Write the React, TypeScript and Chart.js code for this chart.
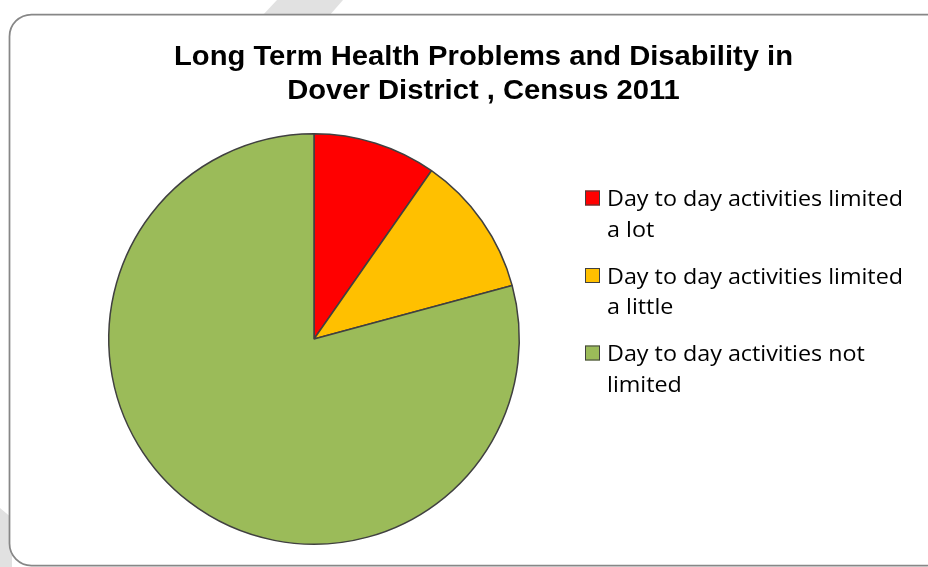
import React, { useEffect, useRef } from "react";
import { Chart, registerables } from "chart.js";

Chart.register(...registerables);

// ---- data ----
const categories = [
  "Day to day activities limited a lot",
  "Day to day activities limited a little",
  "Day to day activities not limited",
];
const values = [9.7, 11.1, 79.2];
const colors = ["#FF0000", "#FFC000", "#9BBB59"];
const titleLines = [
  "Long Term Health Problems and Disability in",
  "Dover District , Census 2011",
];

const W = 928;
const H = 567;

function roundRectPath(ctx: CanvasRenderingContext2D, x: number, y: number, w: number, h: number, r: number) {
  ctx.beginPath();
  ctx.moveTo(x + r, y);
  ctx.lineTo(x + w - r, y);
  ctx.arcTo(x + w, y, x + w, y + r, r);
  ctx.lineTo(x + w, y + h - r);
  ctx.arcTo(x + w, y + h, x + w - r, y + h, r);
  ctx.lineTo(x + r, y + h);
  ctx.arcTo(x, y + h, x, y + h - r, r);
  ctx.lineTo(x, y + r);
  ctx.arcTo(x, y, x + r, y, r);
  ctx.closePath();
}

function drawScaled(ctx: CanvasRenderingContext2D, text: string, x: number, y: number, sx: number, align: "left" | "center") {
  ctx.save();
  ctx.translate(x, y);
  ctx.scale(sx, 1);
  ctx.textAlign = align;
  ctx.textBaseline = "alphabetic";
  ctx.fillText(text, 0, 0);
  ctx.restore();
}

function wrapText(ctx: CanvasRenderingContext2D, text: string, maxW: number, sx: number): string[] {
  const words = text.split(" ");
  const lines: string[] = [];
  let cur = "";
  for (const w of words) {
    const test = cur ? cur + " " + w : w;
    if (cur && ctx.measureText(test).width * sx > maxW) {
      lines.push(cur);
      cur = w;
    } else {
      cur = test;
    }
  }
  if (cur) lines.push(cur);
  return lines;
}

const decorPlugin = {
  id: "decor",
  beforeDraw(chart: any) {
    const ctx: CanvasRenderingContext2D = chart.ctx;
    ctx.save();
    ctx.fillStyle = "#ffffff";
    ctx.fillRect(0, 0, W, H);
    // faint watermark pieces outside the frame
    ctx.fillStyle = "#e1e1e1";
    ctx.beginPath();
    ctx.moveTo(277, 0);
    ctx.lineTo(343, 0);
    ctx.lineTo(329, 16);
    ctx.lineTo(262, 16);
    ctx.closePath();
    ctx.fill();
    ctx.beginPath();
    ctx.moveTo(0, 508);
    ctx.lineTo(12, 518);
    ctx.lineTo(12, 567);
    ctx.lineTo(0, 567);
    ctx.closePath();
    ctx.fill();
    // frame
    roundRectPath(ctx, 9.5, 14.5, 940, 551, 22);
    ctx.fillStyle = "#ffffff";
    ctx.fill();
    ctx.lineWidth = 1.75;
    ctx.strokeStyle = "#878787";
    ctx.stroke();
    ctx.restore();
  },
  afterDraw(chart: any) {
    const ctx: CanvasRenderingContext2D = chart.ctx;
    ctx.save();
    // title
    ctx.fillStyle = "#000000";
    ctx.font = "bold 28px 'Liberation Sans', Arial, sans-serif";
    const tsx = 619 / ctx.measureText(titleLines[0]).width;
    const titleBaselines = [65, 98.5];
    titleLines.forEach((t, i) => drawScaled(ctx, t, 483.5, titleBaselines[i], tsx, "center"));

    // legend
    ctx.font = "22px 'Open Sans', 'Noto Sans', sans-serif";
    const lsx = 296 / ctx.measureText("Day to day activities limited").width;
    const labels: string[] = chart.data.labels;
    const bg: string[] = chart.data.datasets[0].backgroundColor;
    let base = 206;
    labels.forEach((lab, i) => {
      const lines = wrapText(ctx, lab, 302, lsx);
      ctx.fillStyle = bg[i];
      ctx.fillRect(585, base - 15.5, 15, 15);
      ctx.lineWidth = 1;
      ctx.strokeStyle = "#404040";
      ctx.strokeRect(585.5, base - 15, 14, 14);
      ctx.fillStyle = "#000000";
      lines.forEach((ln, j) => drawScaled(ctx, ln, 607, base + j * 30.5, lsx, "left"));
      base += 77.5;
    });
    ctx.restore();
  },
};

export default function App() {
  const ref = useRef<HTMLCanvasElement | null>(null);
  useEffect(() => {
    document.body.style.margin = "0";
    if (!ref.current) return;
    const chart = new Chart(ref.current, {
      type: "pie",
      data: {
        labels: categories,
        datasets: [
          {
            data: values,
            backgroundColor: colors,
            borderColor: "#404040",
            borderWidth: 1.5,
            hoverOffset: 0,
            offset: 0,
          },
        ],
      },
      options: {
        responsive: false,
        animation: false,
        layout: { padding: { left: 108, right: 408, top: 133, bottom: 22 } },
        plugins: {
          legend: { display: false },
          title: { display: false },
          tooltip: { enabled: false },
        },
        events: [],
      },
      plugins: [decorPlugin],
    });
    return () => chart.destroy();
  }, []);
  return (
    <div style={{ position: "fixed", left: 0, top: 0, width: W, height: H }}>
      <canvas ref={ref} width={W} height={H} style={{ width: W, height: H, display: "block" }} />
    </div>
  );
}
